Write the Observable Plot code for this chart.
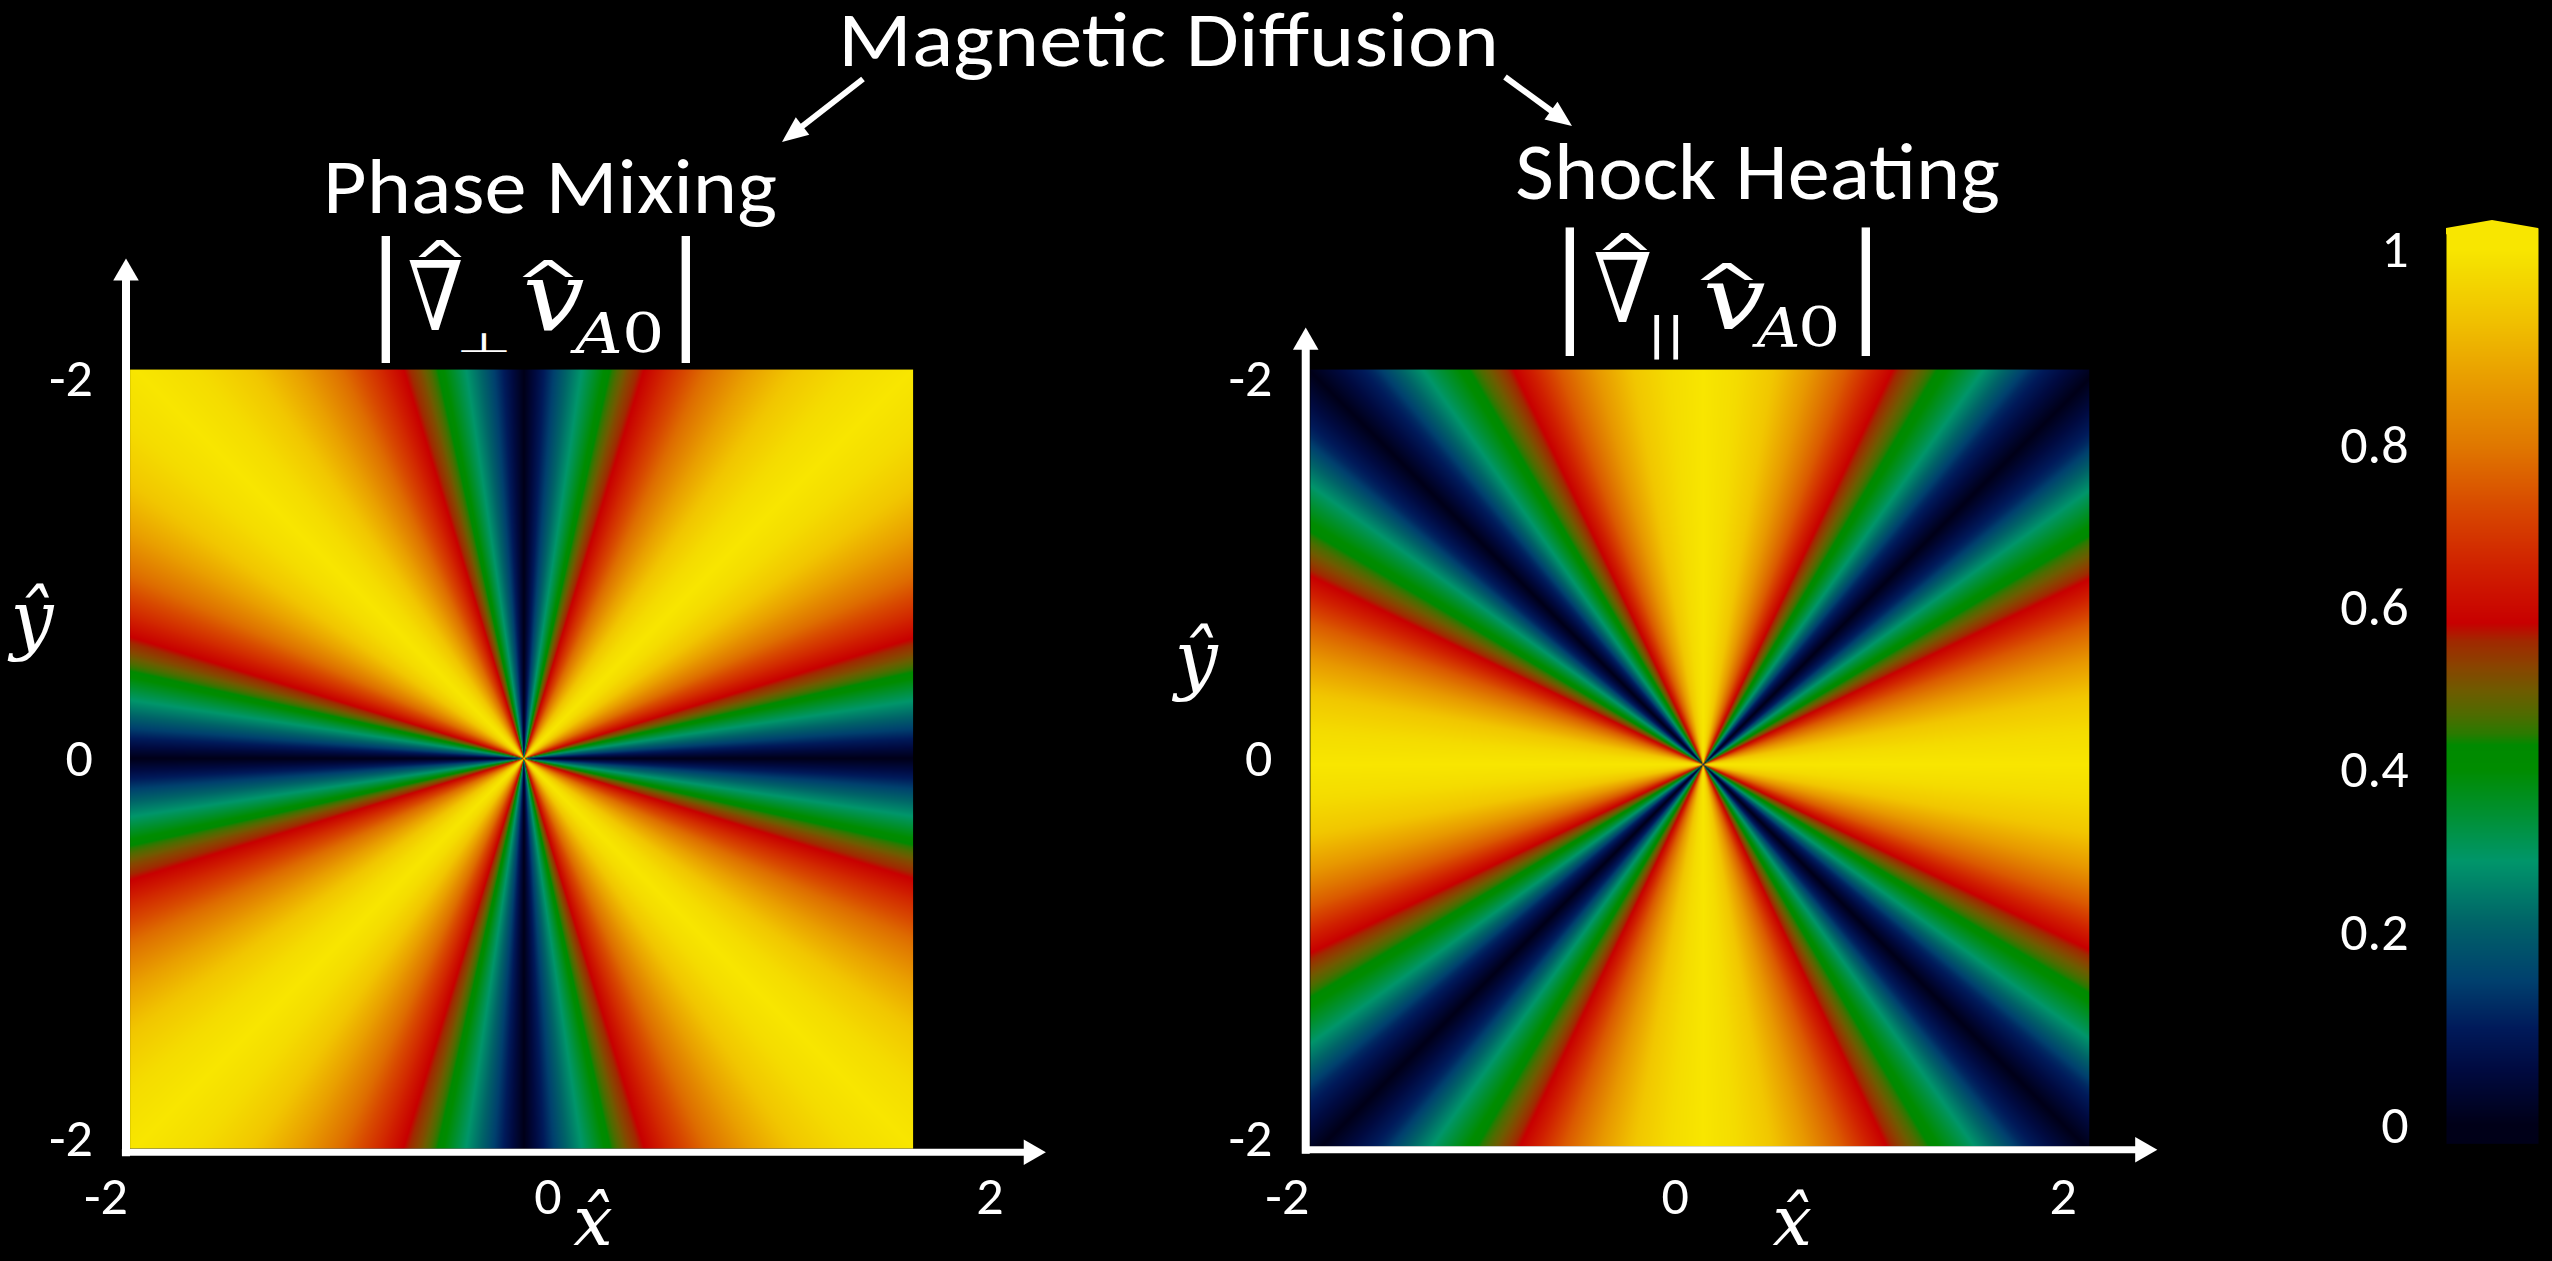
<!DOCTYPE html>
<html>
<head>
<meta charset="utf-8">
<script src="https://cdn.jsdelivr.net/npm/d3@7"></script>
<script src="https://cdn.jsdelivr.net/npm/@observablehq/plot@0.6"></script>
<style>
  html, body { margin: 0; padding: 0; background: #000; }
  #fig { position: relative; width: 2552px; height: 1261px; background: #000; overflow: hidden; }
  #fig svg { position: absolute; overflow: visible; }
</style>
</head>
<body>
<div id="fig"></div>
<script>
// ================= DATA =================
const figureTitle = "Magnetic Diffusion";
const panelTitles = ["Phase Mixing", "Shock Heating"];

// angular profile of each field: angle measured from the nearest axis (deg), mirrored in every octant
const profileAngles      = [0, 5, 10, 15, 20, 25, 30, 35, 40, 45];
const phaseMixingValues  = [0.00, 0.17, 0.34, 0.52, 0.66, 0.78, 0.87, 0.94, 0.98, 1.00];
const shockHeatingValues = [1.00, 0.98, 0.94, 0.86, 0.75, 0.60, 0.45, 0.30, 0.12, 0.00];

// tick labels
const xTickValues = [-2, 0, 2];
const xTickLabels = ["-2", "0", "2"];
const yTickValues = [2, 0, -2];
const yTickLabels = ["-2", "0", "-2"];
const colorbarTicks  = [0, 0.2, 0.4, 0.6, 0.8, 1];
const colorbarLabels = ["0", "0.2", "0.4", "0.6", "0.8", "1"];
const axisNames = ["x\u0302", "y\u0302"];

// colour map (value -> colour)
const cmapStops  = [0, 0.057, 0.10, 0.149, 0.212, 0.287, 0.347, 0.40, 0.43, 0.444, 0.467, 0.497, 0.528, 0.558, 0.581, 0.649, 0.725, 0.80, 0.862, 0.926, 0.988, 1.0];
const cmapColors = ["#000018", "#000a40", "#001a5a", "#00406e", "#006468", "#00966a", "#009030", "#008c00", "#008a00", "#2a7a00", "#4e6c00", "#6e5c00", "#8a4400", "#a02a00", "#c80000", "#d02000", "#d84a00", "#e07800", "#e89a00", "#f0c000", "#f5e000", "#f8e600"];

// ================= LAYOUT =================
const FONT = "Calibri, Carlito, Lato, sans-serif";
const MATH = "'DejaVu Serif', serif";
const SANS = "'DejaVu Sans', sans-serif";
const colorScale = {type: "linear", domain: cmapStops, range: cmapColors, interpolate: "rgb", clamp: true};
const fig = document.getElementById("fig");

const panelLayout = [
  { // Phase mixing
    values: phaseMixingValues,
    origin: [547, 758], kx: 221, ky: 190,
    xDomain: [-2.5, 2.5], yDomain: [-2.65, 2.9],
    heat: {x1: -1.891, x2: 1.652, y1: -2.053, y2: 2.047}, center: [-0.109, 0],
    vAxis: {x: -1.9095, tip: 2.632}, hAxis: {y: -2.072, x0: -1.928, tip: 2.253},
    xLabelY: -2.305, yLabelX: -2.059,
    xName: [0.204, -2.445], yName: [-2.335, 0.726]
  },
  { // Shock heating
    values: shockHeatingValues,
    origin: [1675, 758], kx: 194, ky: 190,
    xDomain: [-2.7, 2.6], yDomain: [-2.65, 2.9],
    heat: {x1: -1.881, x2: 2.134, y1: -2.042, y2: 2.047}, center: [0.144, -0.032],
    vAxis: {x: -1.905, tip: 2.268}, hAxis: {y: -2.059, x0: -1.923, tip: 2.485},
    xLabelY: -2.305, yLabelX: -2.077,
    xName: [0.603, -2.445], yName: [-2.469, 0.516]
  }
];

const TIP_R = 9.5, TIP_OFF = 14.8, AXIS_W = 8;

function makePanel(cfg) {
  const {kx, ky} = cfg;
  const profile = d3.scaleLinear().domain(profileAngles).range(cfg.values).clamp(true);
  const field = (x, y) => {
    const dx = (x - cfg.center[0]) * kx, dy = (y - cfg.center[1]) * ky;
    let a = Math.abs(Math.atan2(dy, dx)) * 180 / Math.PI;
    if (a > 90) a = 180 - a;
    if (a > 45) a = 90 - a;
    return profile(a);
  };
  const width = (cfg.xDomain[1] - cfg.xDomain[0]) * kx;
  const height = (cfg.yDomain[1] - cfg.yDomain[0]) * ky;
  const vA = cfg.vAxis, hA = cfg.hAxis;
  const vLine = [{x1: vA.x, x2: vA.x, y1: hA.y - (AXIS_W / 2) / ky, y2: vA.tip - TIP_OFF / ky}];
  const hLine = [{x1: hA.x0, x2: hA.tip - TIP_OFF / kx, y1: hA.y, y2: hA.y}];
  const textStyle = {fill: "white", fontFamily: FONT, fontSize: 54};
  const plot = Plot.plot({
    width, height, margin: 0,
    style: {background: "transparent", color: "white", overflow: "visible"},
    x: {domain: cfg.xDomain, axis: null},
    y: {domain: cfg.yDomain, axis: null},
    color: colorScale,
    marks: [
      Plot.raster({...cfg.heat, fill: field, pixelSize: 1}),
      Plot.link(vLine, {x1: "x1", x2: "x2", y1: "y1", y2: "y2", stroke: "white", strokeWidth: AXIS_W}),
      Plot.link(hLine, {x1: "x1", x2: "x2", y1: "y1", y2: "y2", stroke: "white", strokeWidth: AXIS_W - 1}),
      Plot.dot([{x: vA.x, y: vA.tip}], {x: "x", y: "y", symbol: "triangle", r: TIP_R, fill: "white", dy: TIP_OFF}),
      Plot.dot([{x: hA.tip, y: hA.y}], {x: "x", y: "y", symbol: "triangle", r: TIP_R, fill: "white", rotate: 90, dx: -TIP_OFF}),
      Plot.text(xTickValues, {x: d => d, y: cfg.xLabelY, text: (d, i) => xTickLabels[i], textAnchor: "middle", ...textStyle}),
      Plot.text(yTickValues, {x: cfg.yLabelX, y: d => d, text: (d, i) => yTickLabels[i], textAnchor: "end", ...textStyle}),
      Plot.text([axisNames[0]], {x: cfg.xName[0], y: cfg.xName[1], text: d => d, fill: "white", fontFamily: MATH, fontStyle: "italic", fontSize: 70}),
      Plot.text([axisNames[1]], {x: cfg.yName[0], y: cfg.yName[1], text: d => d, fill: "white", fontFamily: MATH, fontStyle: "italic", fontSize: 76})
    ]
  });
  plot.style.left = (cfg.origin[0] + cfg.xDomain[0] * kx) + "px";
  plot.style.top = (cfg.origin[1] - cfg.yDomain[1] * ky) + "px";
  fig.appendChild(plot);
}
panelLayout.forEach(makePanel);

// ---------- colour bar ----------
const cbTop = 200;
const cbTickPx = [1125, 932, 769, 607, 445, 249];
const capShape = [{x: 0, y: 1.0214}, {x: 0.5, y: 1.0296}, {x: 1, y: 1.0214}];
const cb = Plot.plot({
  width: 252, height: 1061,
  marginLeft: 146, marginRight: 14, marginTop: 0, marginBottom: 0,
  style: {background: "transparent", color: "white", overflow: "visible"},
  x: {domain: [0, 1], axis: null},
  y: {type: "linear", domain: colorbarTicks, range: cbTickPx.map(p => p - cbTop), axis: null},
  color: colorScale,
  marks: [
    Plot.raster({x1: 0, x2: 1, y1: -0.019, y2: 1.0216, fill: (x, y) => y, pixelSize: 1}),
    Plot.areaY(capShape, {x: "x", y1: 1.015, y2: "y", fill: "#f8e600"}),
    Plot.text(colorbarTicks, {x: 0, y: d => d, text: (d, i) => colorbarLabels[i], dx: -38, textAnchor: "end", fill: "white", fontFamily: FONT, fontSize: 54})
  ]
});
cb.style.left = "2300px";
cb.style.top = cbTop + "px";
fig.appendChild(cb);

// ---------- titles, formulas, annotation arrows ----------
const svg = d3.select(fig).append("svg").attr("width", 2552).attr("height", 1261).style("left", "0px").style("top", "0px");

// each text is fitted to the ink box it occupies in the original
const mctx = document.createElement("canvas").getContext("2d");
function glyph(txt, family, italic, box) {
  const [x0, x1, y0, y1] = box;
  const style = italic ? "italic " : "";
  mctx.font = `${style}100px ${family}`;
  const m = mctx.measureText(txt);
  const w = m.actualBoundingBoxLeft + m.actualBoundingBoxRight;
  const h = m.actualBoundingBoxAscent + m.actualBoundingBoxDescent;
  const sx = (x1 - x0) / w, sy = (y1 - y0) / h;
  svg.append("text")
    .attr("transform", `translate(${x0},${y0}) scale(${sx},${sy})`)
    .attr("x", m.actualBoundingBoxLeft).attr("y", m.actualBoundingBoxAscent)
    .attr("font-family", family).attr("font-size", 100).attr("font-style", italic ? "italic" : "normal")
    .attr("fill", "white").text(txt);
}

glyph(figureTitle, FONT, false, [845, 1494, 12, 80]);
glyph(panelTitles[0], FONT, false, [329, 776, 158, 227]);
glyph(panelTitles[1], FONT, false, [1517, 1999, 143, 213]);

function annotArrow(x0, y0, x1, y1) {
  const a = Math.atan2(y1 - y0, x1 - x0), L = 26, W = 11;
  const bx = x1 - L * Math.cos(a), by = y1 - L * Math.sin(a);
  svg.append("line").attr("x1", x0).attr("y1", y0).attr("x2", bx + 4 * Math.cos(a)).attr("y2", by + 4 * Math.sin(a))
    .attr("stroke", "white").attr("stroke-width", 6);
  svg.append("polygon").attr("fill", "white").attr("points",
    [[x1, y1], [bx - W * Math.sin(a), by + W * Math.cos(a)], [bx + W * Math.sin(a), by - W * Math.cos(a)]].map(p => p.join(",")).join(" "));
}
annotArrow(863, 79, 782, 142);
annotArrow(1505, 77, 1572, 126);

const formulas = [
  [["|", SANS, false, [381, 390, 237, 363]],
   ["\u2207", MATH, true, [409, 461, 260, 330]],
   ["^", SANS, false, [418, 462, 240, 257]],
   ["\u22A5", SANS, false, [461, 507, 333, 352]],
   ["v", MATH, true, [526, 584, 280, 332]],
   ["^", SANS, false, [522, 574, 260, 277]],
   ["A", MATH, true, [570, 620, 312, 353]],
   ["0", MATH, false, [626, 660, 312, 353]],
   ["|", SANS, false, [681, 690, 237, 363]]],
  [["|", SANS, false, [1565, 1574, 228, 357]],
   ["\u2207", MATH, true, [1595, 1650, 252, 322]],
   ["^", SANS, false, [1602, 1648, 233, 250]],
   ["||", SANS, false, [1654, 1678, 315, 360]],
   ["v", MATH, true, [1706, 1765, 283, 330]],
   ["^", SANS, false, [1700, 1754, 263, 280]],
   ["A", MATH, true, [1752, 1798, 307, 347]],
   ["0", MATH, false, [1802, 1836, 307, 347]],
   ["|", SANS, false, [1861, 1870, 228, 357]]]
];
formulas.forEach(f => f.forEach(g => glyph(...g)));
</script>
</body>
</html>
